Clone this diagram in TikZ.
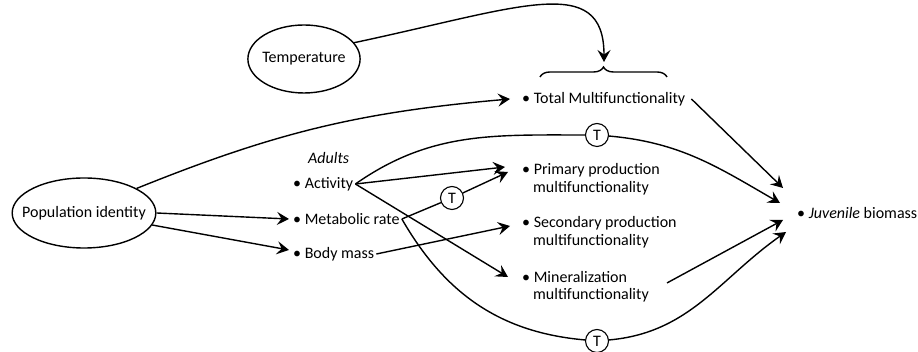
\documentclass[tikz,border=0pt]{standalone}
\usepackage{fontspec}
\setmainfont{Carlito}
\usepackage{tikz}
\usetikzlibrary{arrows.meta,positioning,shapes.geometric,decorations.pathreplacing}

\begin{document}
\begin{tikzpicture}[x=1pt,y=1pt,
  every node/.style={font=\fontsize{16}{19}\selectfont},
  oval/.style={ellipse,draw,line width=1.4pt,inner ysep=0pt},
  item/.style={anchor=west,inner sep=2pt},
  tnode/.style={circle,draw,line width=1.1pt,minimum size=23pt,inner sep=0pt},
  link/.style={line width=1.4pt},
  arr/.style={link,-{Stealth[length=12pt,width=13pt,inset=4.5pt]}}]

\useasboundingbox (0,0) rectangle (918,352);

% the two drivers
\node[oval,inner xsep=-11pt,minimum height=70pt] (pop) at (84,139) {Population identity};
\node[oval,inner xsep=-2pt,minimum height=68pt] (temp) at (304,293) {Temperature};

% adult traits
\node[item] (adults) at (306,194) {\textit{Adults}};
\foreach \name/\y/\txt in {act/168/Activity, met/133/Metabolic rate, body/98/Body mass}
  \node[item] (\name) at (291,\y) {\textbullet~\txt};

% ecosystem functions
\node[item] (total) at (520,253) {\textbullet~Total Multifunctionality};
\foreach \name/\y/\txt in {prim/182/Primary production, sec/129/Secondary production, mine/75/Mineralization}
{
  \node[item] (\name) at (520,\y) {\textbullet~\txt};
  \node[item] (\name2) at (531,\y-18) {multifunctionality};
}
\node[item] (juv) at (795,139) {\textbullet~\textit{Juvenile} biomass};

% temperature interactions
\node[tnode] (ttop) at (597,217) {T};
\node[tnode] (tmid) at (452,154) {T};
\node[tnode] (tbot) at (597,11) {T};

% brace over the functions
\coordinate (braceL) at (540,275);
\coordinate (braceR) at (667,275);
\coordinate (braceTip) at (604,290);
\draw[link,decorate,decoration={brace,amplitude=10pt}] (braceL) -- (braceR);
\draw[arr] (temp.18) to[out=12,in=90,out distance=170pt,in distance=90pt] (braceTip);

% links from population identity
\draw[arr] (pop.25) to[out=22,in=185] ([xshift=-10pt]total.west);
\draw[arr] (pop.east) -- ([xshift=-2pt]met.west);
\draw[arr] (pop.-10) -- ([xshift=-2pt,yshift=4pt]body.west);

% links from the adult traits
\draw[arr] (act.east) -- ([xshift=-15pt,yshift=3pt]prim.west);
\draw[arr] (act.east) -- ([xshift=-12pt]mine.west);
\draw[link] (act.east) to[out=35,in=180] (ttop);
\draw[arr] (ttop) to[out=-5,in=150] ([xshift=-15pt,yshift=10pt]juv.west);
\draw[link] (met.east) -- (tmid);
\draw[arr] (tmid) -- ([xshift=-12pt,yshift=-2pt]prim.west);
\draw[link] (met.east) to[out=-60,in=175] (tbot);
\draw[arr] (tbot) to[out=5,in=215] ([xshift=-9pt,yshift=-19pt]juv.west);
\draw[arr] (body.east) -- ([xshift=-10pt,yshift=-3pt]sec.west);

% links to juvenile biomass
\draw[arr] ([xshift=4pt]total.east) -- ([xshift=-12pt,yshift=25pt]juv.west);
\draw[arr] ([xshift=16pt,yshift=3pt]mine2.north east) -- ([xshift=-12pt,yshift=-7pt]juv.west);
\end{tikzpicture}
\end{document}
